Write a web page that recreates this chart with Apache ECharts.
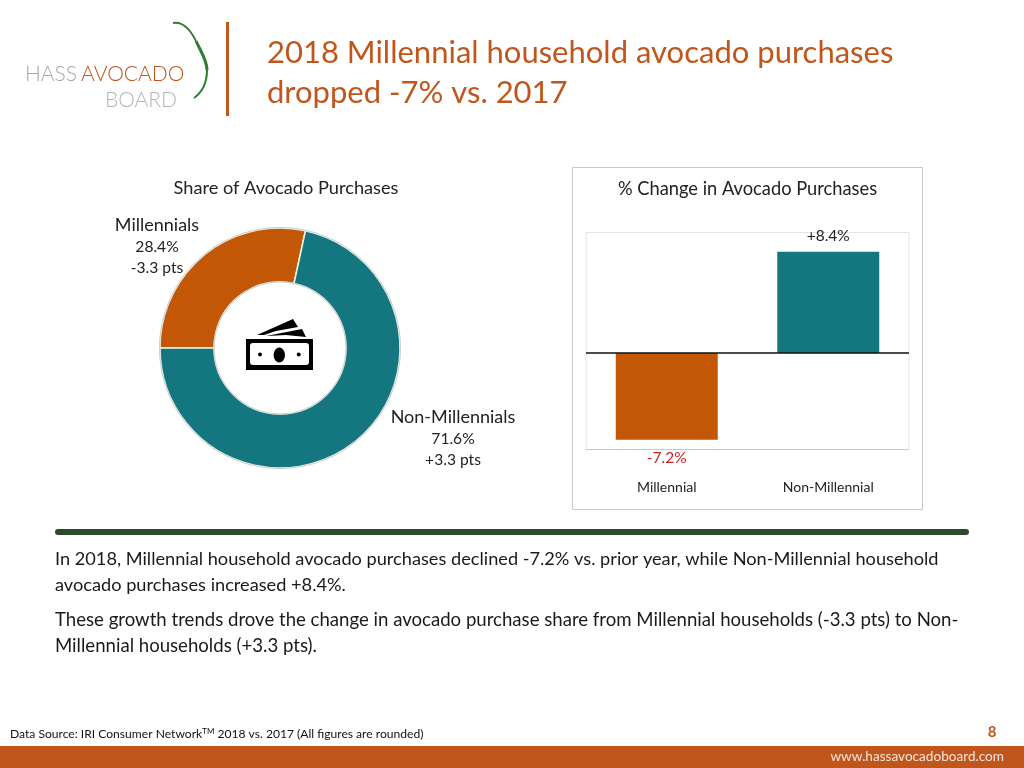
<!DOCTYPE html>
<html><head><meta charset="utf-8">
<style>html,body{margin:0;padding:0;background:#fff}#c{width:1024px;height:768px}</style>
<script src="https://cdn.jsdelivr.net/npm/echarts@6/dist/echarts.min.js"></script>
</head><body><div id="c"></div>
<script>
const shareNames = ['Millennials', 'Non-Millennials'];
const shareValues = [28.4, 71.6];
const shareLabels = ['28.4%', '71.6%'];
const shareChanges = ['-3.3 pts', '+3.3 pts'];
const changeCategories = ['Millennial', 'Non-Millennial'];
const changeValues = [-7.2, 8.4];
const changeLabels = ['-7.2%', '+8.4%'];
const titleLines = ['2018 Millennial household avocado purchases', 'dropped -7% vs. 2017'];
const bodyLines = [
  'In 2018, Millennial household avocado purchases declined -7.2% vs. prior year, while Non-Millennial household',
  'avocado purchases increased +8.4%.',
  'These growth trends drove the change in avocado purchase share from Millennial households (-3.3 pts) to Non-',
  'Millennial households (+3.3 pts).'
];
const bodyY = [559, 585, 620, 646];
const bodySize = [18.2, 18.2, 18.6, 18.6];
const F = 'Lato, "Open Sans", sans-serif';
const ORANGE = '#c25706', TEAL = '#147780', BRAND = '#c0561c';
const txt = (x, y, text, size, fill, extra) => ({
  type: 'text', x, y, silent: true, z: 3,
  style: Object.assign({ text, font: size + 'px ' + F, fill, verticalAlign: 'middle', align: 'left' }, extra || {})
});
const rect = (x, y, width, height, fill, z, r) => ({ type: 'rect', shape: { x, y, width, height, r: r || 0 }, style: { fill }, silent: true, z: z || 1 });
const curve = (x1, y1, cpx1, cpy1, cpx2, cpy2, x2, y2, w) => ({ type: 'bezierCurve', shape: { x1, y1, cpx1, cpy1, cpx2, cpy2, x2, y2 }, style: { stroke: '#2e7d32', lineWidth: w, fill: 'none' }, silent: true });
const graphics = [
  rect(0, 746, 1024, 22, BRAND),
  rect(55, 529, 914, 6, '#2b4a2e', 1, 3),
  rect(226, 22, 3, 94, BRAND),
  { type: 'rect', shape: { x: 572.5, y: 167.5, width: 350, height: 342 }, style: { fill: 'none', stroke: '#c9c9c9', lineWidth: 1 }, silent: true },
  // logo
  curve(173, 23, 184, 21, 191, 31, 196, 41, 1.8),
  curve(196, 41, 201, 52, 207, 60, 207, 70, 3),
  curve(207, 70, 207, 84, 201, 93, 194, 98, 2),
  txt(25, 74, 'HASS', 21, '#a8a8a8', { font: '300 21px ' + F }),
  txt(81, 74, 'AVOCADO', 21, BRAND, { font: '300 21px ' + F }),
  txt(105, 100, 'BOARD', 21, '#b5b5b5', { font: '300 21px ' + F }),
  // titles
  txt(267, 53, titleLines[0], 31, BRAND),
  txt(267, 93, titleLines[1], 31, BRAND),
  txt(286, 188, 'Share of Avocado Purchases', 18.2, '#222', { align: 'center' }),
  txt(747.5, 189, '% Change in Avocado Purchases', 18.3, '#222', { align: 'center' }),
  // body
  ...bodyLines.map((l, i) => txt(55, bodyY[i], l, bodySize[i], '#1a1a1a')),
  // footer
  { type: 'text', x: 10, y: 734, silent: true, z: 3, style: {
      text: '{a|Data Source: IRI Consumer Network}{s|TM}{a| 2018 vs. 2017 (All figures are rounded)}',
      verticalAlign: 'middle', fill: '#111',
      rich: { a: { font: '12.1px ' + F, fill: '#111' }, s: { font: '8px ' + F, fill: '#111', verticalAlign: 'top', padding: [0, 0, 5, 0] } } } },
  txt(992, 732, '8', 15, BRAND, { font: 'bold 15px ' + F, align: 'center' }),
  txt(1004, 757, 'www.hassavocadoboard.com', 13.6, '#f4e4d8', { align: 'right' }),
  // donut outlines
  { type: 'circle', shape: { cx: 280, cy: 348, r: 120.5 }, style: { fill: 'none', stroke: '#c9cfd0', lineWidth: 1 }, silent: true, z: 5 },
  { type: 'circle', shape: { cx: 280, cy: 348, r: 66 }, style: { fill: 'none', stroke: '#c9cfd0', lineWidth: 1 }, silent: true, z: 5 },
  // money icon
  rect(246, 339, 67, 31, '#000', 6),
  rect(250, 343, 59, 22, '#fff', 6, 3),
  { type: 'circle', x: 279.3, y: 355, scaleX: 0.75, shape: { cx: 0, cy: 0, r: 7.6 }, style: { fill: '#000' }, silent: true, z: 7 },
  { type: 'circle', shape: { cx: 260, cy: 354.5, r: 2 }, style: { fill: '#000' }, silent: true, z: 7 },
  { type: 'circle', shape: { cx: 298.7, cy: 354.5, r: 2 }, style: { fill: '#000' }, silent: true, z: 7 },
  { type: 'polygon', shape: { points: [[257, 335], [293, 319], [298, 327], [276, 331], [264, 335]] }, style: { fill: '#000' }, silent: true, z: 6 },
  { type: 'polygon', shape: { points: [[266, 336], [302, 329], [306, 337], [286, 335]] }, style: { fill: '#000' }, silent: true, z: 6 }
];
const labelPos = [[157, 246], [453, 438.5]];
const option = {
  animation: false,
  backgroundColor: '#fff',
  graphic: graphics,
  grid: { left: 586, top: 232.5, width: 323, height: 217, show: true, borderColor: '#e4e4e4', borderWidth: 1 },
  xAxis: {
    type: 'category', data: changeCategories,
    axisLine: { onZero: false, lineStyle: { color: '#c9c9c9' } },
    axisTick: { show: false },
    axisLabel: { margin: 31, fontSize: 14, fontFamily: F, color: '#222' }
  },
  yAxis: { type: 'value', min: -8, max: 10, interval: 2, show: false, splitLine: { show: false } },
  series: [
    {
      type: 'pie', center: [280, 348], radius: [66, 120], startAngle: 180, clockwise: true,
      color: [ORANGE, TEAL],
      itemStyle: { borderColor: '#f4f0ea', borderWidth: 1.5 },
      data: shareNames.map((name, i) => ({ name, value: shareValues[i] })),
      label: {
        show: true, position: 'outside', align: 'center',
        formatter: p => '{n|' + p.name + '}\n{v|' + shareLabels[p.dataIndex] + '}\n{v|' + shareChanges[p.dataIndex] + '}',
        rich: {
          n: { fontFamily: F, fontSize: 18, color: '#222', lineHeight: 22, align: 'center' },
          v: { fontFamily: F, fontSize: 15.6, color: '#222', lineHeight: 21, align: 'center' }
        }
      },
      labelLine: { show: false },
      labelLayout: p => ({ x: labelPos[p.dataIndex][0], y: labelPos[p.dataIndex][1], align: 'center', verticalAlign: 'middle' }),
      emphasis: { disabled: true }
    },
    {
      type: 'bar', barWidth: 102,
      data: changeValues.map((value, i) => ({
        value,
        itemStyle: { color: value < 0 ? ORANGE : TEAL },
        label: { position: value < 0 ? 'bottom' : 'top', distance: value < 0 ? 10 : 8, color: value < 0 ? '#c5202a' : '#222' }
      })),
      label: { show: true, fontFamily: F, fontSize: 15.5, formatter: p => changeLabels[p.dataIndex] },
      markLine: {
        silent: true, symbol: 'none', label: { show: false },
        lineStyle: { color: '#111', type: 'solid', width: 1.5 },
        data: [{ yAxis: 0 }]
      }
    }
  ]
};
const chart = echarts.init(document.getElementById('c'), null, { renderer: 'canvas', width: 1024, height: 768 });
chart.setOption(option);
</script></body></html>
